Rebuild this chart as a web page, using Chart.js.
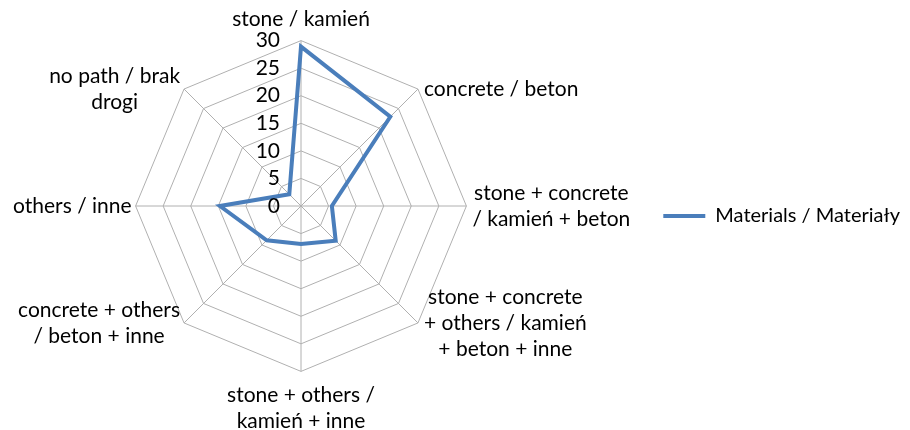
<!DOCTYPE html>
<html>
<head>
<meta charset="utf-8">
<script src="https://cdn.jsdelivr.net/npm/chart.js@4/dist/chart.umd.min.js"></script>
<style>
  html, body { margin: 0; padding: 0; background: #fff; }
  #wrap { width: 910px; height: 430px; position: relative; }
</style>
</head>
<body>
<div id="wrap"><canvas id="radar"></canvas></div>
<script>
// data
const categories = [
  ['stone / kamień'],
  ['concrete / beton'],
  ['stone + concrete', '/ kamień + beton'],
  ['stone + concrete', '+ others / kamień', '+ beton + inne'],
  ['stone + others /', 'kamień + inne'],
  ['concrete + others', '/ beton + inne'],
  ['others / inne'],
  ['no path / brak', 'drogi']
];
const materials = [28.9, 22.9, 5.6, 8.9, 6.9, 8.8, 14.7, 3.0];
const tickValues = [0, 5, 10, 15, 20, 25, 30];
const seriesName = 'Materials / Materiały';

const FONT = 'Lato, "Open Sans", sans-serif';
const FONT_SIZE = 21;
const LINE_H = 26;

// tick numbers left of the vertical axis, and category labels placed the way Excel does
const labelPlugin = {
  id: 'labelPlugin',
  afterDraw(chart) {
    const scale = chart.scales.r;
    const ctx = chart.ctx;
    ctx.save();
    ctx.fillStyle = '#000';
    ctx.font = FONT_SIZE + 'px ' + FONT;
    ctx.textBaseline = 'middle';

    ctx.textAlign = 'right';
    tickValues.forEach(v => {
      const y = scale.yCenter - scale.getDistanceFromCenterForValue(v);
      ctx.fillText(String(v), scale.xCenter - 21, y);
    });

    ctx.textAlign = 'center';
    const n = categories.length;
    categories.forEach((lines, i) => {
      const p = scale.getPointPosition(i, scale.drawingArea);
      const deg = Math.round(360 * i / n);
      const bw = Math.max(...lines.map(t => ctx.measureText(t).width));
      const bh = lines.length * LINE_H;
      let cx, top;
      if (deg === 0) { cx = p.x; top = p.y - 8 - bh; }
      else if (deg === 180) { cx = p.x; top = p.y + 11; }
      else if (deg < 180) { cx = p.x + 6 + bw / 2; top = p.y - bh / 2; }
      else { cx = p.x - 4 - bw / 2; top = p.y - bh / 2; }
      lines.forEach((t, k) => ctx.fillText(t, cx, top + LINE_H * (k + 0.5)));
    });
    ctx.restore();
  }
};

new Chart(document.getElementById('radar'), {
  type: 'radar',
  data: {
    labels: categories,
    datasets: [{
      label: seriesName,
      data: materials,
      borderColor: '#4a7ebb',
      backgroundColor: '#4a7ebb',
      borderWidth: 4,
      fill: false,
      pointRadius: 0,
      pointHoverRadius: 0,
      tension: 0
    }]
  },
  options: {
    responsive: true,
    maintainAspectRatio: false,
    animation: false,
    layout: { padding: { top: 2, bottom: 0, left: 0, right: 0 } },
    plugins: {
      tooltip: { enabled: false },
      legend: {
        position: 'right',
        labels: {
          usePointStyle: true,
          pointStyle: 'line',
          pointStyleWidth: 42,
          color: '#000',
          font: { family: FONT, size: 20 },
          padding: 10
        }
      }
    },
    scales: {
      r: {
        min: 0,
        max: 30,
        beginAtZero: true,
        ticks: { stepSize: 5, display: false },
        grid: { color: '#b0b0b0', lineWidth: 1, circular: false },
        angleLines: { color: '#b0b0b0', lineWidth: 1 },
        // the built-in labels only size the radar; the plugin above draws the visible ones
        pointLabels: {
          color: 'transparent',
          padding: c => (c.index === 6 ? -8 : 4),
          font: { family: FONT, size: FONT_SIZE, lineHeight: 0.9 }
        }
      }
    }
  },
  plugins: [labelPlugin]
});
</script>
</body>
</html>
